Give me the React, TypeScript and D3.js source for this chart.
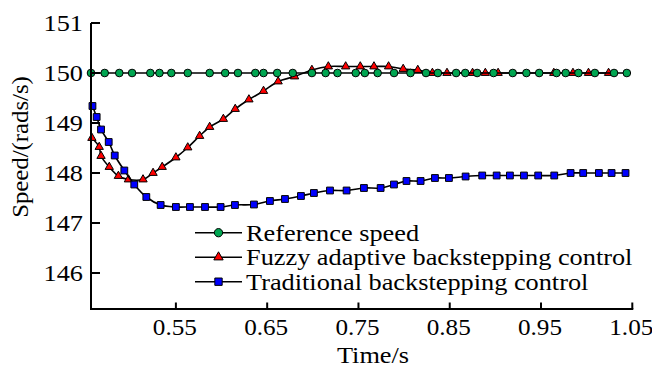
import React from 'react';
import * as d3 from 'd3';

// time stamps and speeds
const refTimes = [0.457, 0.472, 0.488, 0.502, 0.522, 0.532, 0.545, 0.563, 0.587, 0.604, 0.618, 0.637, 0.646, 0.661,
  0.678, 0.699, 0.714, 0.727, 0.747, 0.757, 0.771, 0.789, 0.807, 0.824, 0.837, 0.857, 0.867, 0.880, 0.898, 0.919,
  0.934, 0.948, 0.967, 0.977, 0.991, 1.009, 1.030, 1.044];
const refSpeed = refTimes.map(() => 150);

const fuzzyTimes = [0.458, 0.466, 0.468, 0.477, 0.487, 0.498, 0.514, 0.525, 0.535, 0.550, 0.563, 0.576, 0.587,
  0.602, 0.615, 0.630, 0.646, 0.662, 0.680, 0.699, 0.717, 0.736, 0.752, 0.767, 0.783, 0.799, 0.815, 0.831, 0.847,
  0.875, 0.889, 0.903, 0.964, 0.985, 1.002, 1.024];
const fuzzySpeed = [148.70, 148.52, 148.34, 148.12, 147.94, 147.87, 147.87, 148.00, 148.12, 148.31, 148.51, 148.74,
  148.92, 149.08, 149.28, 149.47, 149.64, 149.83, 149.93, 150.06, 150.13, 150.13, 150.13, 150.13, 150.13, 150.08,
  150.06, 150.00, 150.00, 150.00, 150.00, 150.00, 150.00, 150.00, 150.00, 150.00];

const tradTimes = [0.4586, 0.4632, 0.468, 0.4764, 0.483, 0.4935, 0.5044, 0.5176, 0.5333, 0.550, 0.5654, 0.5819,
  0.599, 0.6147, 0.6355, 0.653, 0.6695, 0.687, 0.7012, 0.7188, 0.737, 0.756, 0.7743, 0.7889, 0.8026, 0.8181,
  0.8338, 0.8491, 0.8674, 0.8856, 0.9014, 0.9159, 0.9313, 0.9469, 0.9645, 0.9824, 0.9962, 1.0134, 1.0273, 1.0426];
const tradSpeed = [149.34, 149.12, 148.87, 148.62, 148.35, 148.05, 147.77, 147.52, 147.36, 147.32, 147.32, 147.32,
  147.32, 147.36, 147.37, 147.44, 147.48, 147.54, 147.60, 147.65, 147.65, 147.70, 147.70, 147.77, 147.84, 147.84,
  147.90, 147.90, 147.93, 147.95, 147.95, 147.95, 147.95, 147.95, 147.95, 148.00, 148.00, 148.00, 148.00, 148.00];

const xTicks = [0.55, 0.65, 0.75, 0.85, 0.95, 1.05];
const yTicks = [146, 147, 148, 149, 150, 151];
const legendNames = ['Reference speed', 'Fuzzy adaptive backstepping control', 'Traditional backstepping control'];

const FONT = '"Liberation Serif", "Times New Roman", serif';
const FS = 22.5;
const SX = 1.17; // the original text is a bit stretched sideways
const SX_TICK = 1.12;

export default function App() {
  const width = 652;
  const height = 367;

  const x = d3.scaleLinear().domain([0.457, 1.05]).range([91, 632.3]);
  const y = d3.scaleLinear().domain([145.28, 151]).range([309, 23]);

  const line = d3.line<[number, number]>()
    .x(d => x(d[0]))
    .y(d => y(d[1]))
    .curve(d3.curveCatmullRom.alpha(0.5));

  const series = [
    {name: legendNames[1], times: fuzzyTimes, vals: fuzzySpeed, fill: '#ff0000', sym: d3.symbolTriangle, size: 30},
    {name: legendNames[2], times: tradTimes, vals: tradSpeed, fill: '#0000ff', sym: d3.symbolSquare, size: 46},
    {name: legendNames[0], times: refTimes, vals: refSpeed, fill: '#00a651', sym: d3.symbolCircle, size: 46},
  ];
  const legendOrder = [series[2], series[0], series[1]];

  return (
    <svg width={width} height={height} style={{position: 'absolute', left: 0, top: 0, background: '#fff'}}
      fontFamily={FONT}>
      {/* series */}
      {series.map(s => {
        const pts = s.times.map((t, i) => [t, s.vals[i]] as [number, number]);
        const path = d3.symbol().type(s.sym).size(s.size)() || '';
        return (
          <g key={s.name}>
            <path d={line(pts) || ''} fill="none" stroke="#000" strokeWidth={1.6} />
            {pts.map((p, i) => (
              <path key={i} d={path} transform={`translate(${x(p[0])},${y(p[1])})`}
                fill={s.fill} stroke="#000" strokeWidth={1} />
            ))}
          </g>
        );
      })}

      {/* axes */}
      <line x1={91} x2={91} y1={y(151)} y2={309} stroke="#000" strokeWidth={2} />
      <line x1={90} x2={x(1.05) + 1} y1={309} y2={309} stroke="#000" strokeWidth={2} />
      {yTicks.map(t => (
        <g key={t}>
          <line x1={91} x2={100} y1={y(t)} y2={y(t)} stroke="#000" strokeWidth={2} />
          <text transform={`translate(83,${y(t) + 8}) scale(${SX},1)`} textAnchor="end" fontSize={FS}>{t}</text>
        </g>
      ))}
      {xTicks.map(t => (
        <g key={t}>
          <line x1={x(t)} x2={x(t)} y1={309} y2={302.5} stroke="#000" strokeWidth={2} />
          <text transform={`translate(${x(t) - 1},335) scale(${SX_TICK},1)`} textAnchor="middle" fontSize={FS}>
            {t.toFixed(2)}
          </text>
        </g>
      ))}
      <text transform={`translate(373,363) scale(${SX},1)`} textAnchor="middle" fontSize={FS}>Time/s</text>
      <text transform={`translate(28,147) rotate(-90) scale(1.1,1)`} textAnchor="middle" fontSize={FS}>
        Speed/(rads/s)
      </text>

      {/* legend */}
      {legendOrder.map((s, i) => {
        const cy = 232.7 + i * 24.5;
        const path = d3.symbol().type(s.sym).size(s.size + 8)() || '';
        return (
          <g key={s.name}>
            <line x1={195} x2={242} y1={cy} y2={cy} stroke="#000" strokeWidth={1.6} />
            <path d={path} transform={`translate(218.5,${cy})`} fill={s.fill} stroke="#000" strokeWidth={1} />
            <text transform={`translate(246,${cy + 8}) scale(${SX},1)`} fontSize={FS}>{s.name}</text>
          </g>
        );
      })}
    </svg>
  );
}
